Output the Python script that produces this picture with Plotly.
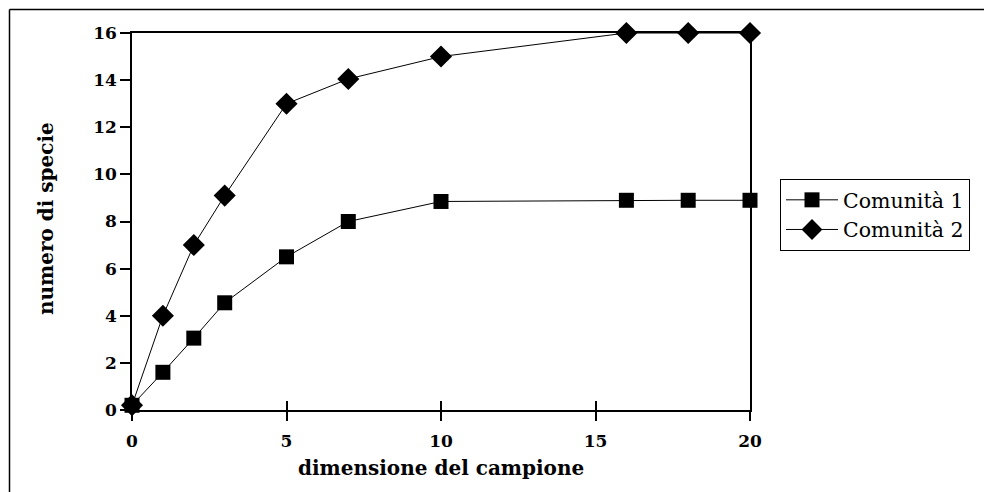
import plotly.graph_objects as go

x_vals = [0, 1, 2, 3, 5, 7, 10, 16, 18, 20]
comunita_1 = [0.2, 1.6, 3.05, 4.55, 6.5, 8.0, 8.85, 8.9, 8.9, 8.9]
comunita_2 = [0.2, 4.0, 7.0, 9.1, 13.0, 14.05, 15.0, 16.0, 16.0, 16.0]
series_names = ["Comunità 1", "Comunità 2"]
x_ticks = [0, 5, 10, 15, 20]
y_ticks = [0, 2, 4, 6, 8, 10, 12, 14, 16]
x_title = "dimensione del campione"
y_title = "numero di specie"

FONT = "DejaVu Serif"
O = 8  # page body margin offset
PX0, PX1, PY0, PY1 = 132, 750, 33, 410  # plot area in page pixels
W, H = 992 - O, 492 - O
L, T = PX0 - O, PY0 - O
pw, ph = PX1 - PX0, PY1 - PY0
R, B = W - L - pw, H - T - ph


def px(xp):
    return (xp - PX0) / pw


def py(yp):
    return (PY1 - yp) / ph


fig = go.Figure()
fig.add_trace(go.Scatter(x=x_vals, y=comunita_1, name=series_names[0], mode="lines+markers",
                         line=dict(color="black", width=1),
                         marker=dict(symbol="square", size=15, color="black"),
                         cliponaxis=False))
fig.add_trace(go.Scatter(x=x_vals, y=comunita_2, name=series_names[1], mode="lines+markers",
                         line=dict(color="black", width=1),
                         marker=dict(symbol="diamond", size=17, color="black"),
                         cliponaxis=False))
# invisible trace to activate overlay axis for crossing ticks
fig.add_trace(go.Scatter(x=[0, 20], y=[0, 0], xaxis="x2", mode="lines",
                         line=dict(width=0), showlegend=False, hoverinfo="skip"))

fig.update_layout(
    width=W, height=H,
    margin=dict(l=L, r=R, t=T, b=B),
    paper_bgcolor="white", plot_bgcolor="white",
    font=dict(family=FONT, color="black"),
    showlegend=True,
    legend=dict(x=px(780), y=py(179), xanchor="left", yanchor="top",
                bordercolor="black", borderwidth=1, bgcolor="white",
                font=dict(family=FONT, size=20.5, color="black"),
                itemwidth=52, tracegroupgap=0),
    xaxis=dict(range=[0, 20], tickvals=x_ticks, ticks="outside", ticklen=9, tickwidth=2,
               tickcolor="black", showline=True, linecolor="black", linewidth=1.5,
               mirror=True, showgrid=False, zeroline=False, ticklabelstandoff=6,
               tickfont=dict(family=FONT, size=17, color="black", weight="bold")),
    xaxis2=dict(range=[0, 20], overlaying="x", side="bottom", tickvals=x_ticks,
                ticks="inside", ticklen=9, tickwidth=2, tickcolor="black",
                showticklabels=False, showline=False, showgrid=False, zeroline=False),
    yaxis=dict(range=[0, 16], tickvals=y_ticks, ticks="outside", ticklen=10, tickwidth=2,
               tickcolor="black", showline=True, linecolor="black", linewidth=1.5,
               mirror=True, showgrid=False, zeroline=False,
               tickfont=dict(family=FONT, size=17, color="black", weight="bold")),
    annotations=[
        dict(text=x_title, xref="paper", yref="paper", x=px(441), y=py(468),
             showarrow=False, xanchor="center", yanchor="middle",
             font=dict(family=FONT, size=20, color="black", weight="bold")),
        dict(text=y_title, xref="paper", yref="paper", x=px(46), y=py(218),
             showarrow=False, xanchor="center", yanchor="middle", textangle=-90,
             font=dict(family=FONT, size=20, color="black", weight="bold")),
    ],
    shapes=[
        dict(type="line", xref="paper", yref="paper",
             x0=px(9.5), x1=px(9.5), y0=py(9.5), y1=py(520),
             line=dict(color="black", width=1.5)),
        dict(type="line", xref="paper", yref="paper",
             x0=px(9.5), x1=px(1010), y0=py(9.5), y1=py(9.5),
             line=dict(color="black", width=1.5)),
    ],
)

fig.write_html("out.html")
